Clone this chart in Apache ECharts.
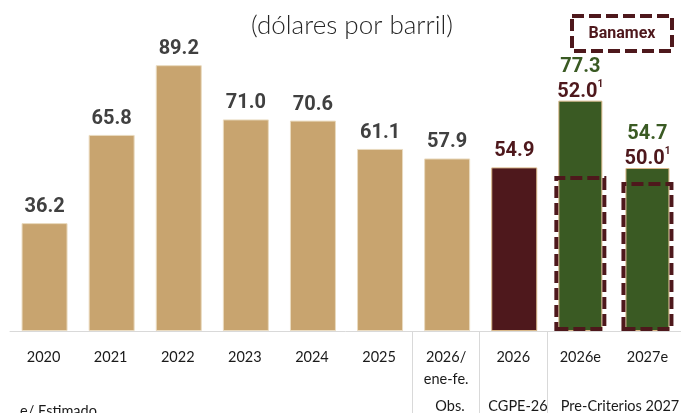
<!DOCTYPE html>
<html><head><meta charset="utf-8">
<script src="https://cdn.jsdelivr.net/npm/echarts@6/dist/echarts.min.js"></script>
<style>html,body{margin:0;padding:0;background:#fff}#c{width:681px;height:413px}</style>
</head><body><div id="c"></div>
<script>
const categories = ['2020','2021','2022','2023','2024','2025','2026/\nene-fe.','2026','2026e','2027e'];
const observed = [36.2, 65.8, 89.2, 71.0, 70.6, 61.1, 57.9, null, null, null];
const cgpe = [null, null, null, null, null, null, null, 54.9, null, null];
const preCriterios = [null, null, null, null, null, null, null, null, 77.3, 54.7];
const banamex = [null, null, null, null, null, null, null, null, 52.0, 50.0];
const groupLabels = ['Obs.', 'CGPE-26', 'Pre-Criterios 2027'];

const TAN = '#C8A46F', MAROON = '#4E181C', GREEN = '#3A5A23', GRAY = '#404040';
const NUM_FONT = "'Roboto',sans-serif";
const TXT_FONT = "'Lato','Noto Sans',sans-serif";

const chart = echarts.init(document.getElementById('c'), null, {renderer:'canvas'});
const fmt = v => v.toFixed(1);

chart.setOption({
  animation: false,
  grid: {left: 10, width: 680, top: 33, bottom: 82},
  xAxis: [{
    type: 'category', data: categories,
    axisLine: {show: true, lineStyle: {color: '#d9d9d9', width: 1}},
    axisTick: {show: true, length: 82, interval: (i) => i === 6 || i === 7 || i === 8, lineStyle: {color: '#d9d9d9'}},
    axisLabel: {color: '#1a1a1a', fontFamily: TXT_FONT, fontSize: 14.5, margin: 15, lineHeight: 22, interval: 0}
  }, {
    type: 'category', data: categories, show: false, position: 'bottom'
  }],
  yAxis: [{type: 'value', min: 0, max: 100, show: false, splitLine: {show: false}}],
  series: [
    {type: 'bar', data: observed, barWidth: 46, barGap: '-100%',
      itemStyle: {color: TAN, borderColor: '#EADBC0', borderWidth: 1},
      label: {show: true, position: 'top', distance: 6, formatter: p => fmt(p.value), color: GRAY,
        fontFamily: NUM_FONT, fontWeight: 'bold', fontSize: 20}},
    {type: 'bar', data: cgpe, barWidth: 46, barGap: '-100%',
      itemStyle: {color: MAROON, borderColor: '#D9B98A', borderWidth: 1},
      label: {show: true, position: 'top', distance: 6, formatter: p => fmt(p.value), color: MAROON,
        fontFamily: NUM_FONT, fontWeight: 'bold', fontSize: 20}},
    {type: 'bar', data: preCriterios, barWidth: 44, barGap: '-100%',
      itemStyle: {color: GREEN, borderColor: '#D9B98A', borderWidth: 1},
      labelLayout: {dy: 4},
      label: {show: true, position: 'top', distance: 0,
        formatter: p => '{g|' + fmt(p.value) + '}\n{m|' + fmt(banamex[p.dataIndex]) + '}{s|1}',
        rich: {
          g: {color: GREEN, fontFamily: NUM_FONT, fontWeight: 'bold', fontSize: 20, lineHeight: 25},
          m: {color: MAROON, fontFamily: NUM_FONT, fontWeight: 'bold', fontSize: 20, lineHeight: 25},
          s: {color: MAROON, fontFamily: NUM_FONT, fontWeight: 'bold', fontSize: 10, lineHeight: 25, verticalAlign: 'top', padding: [0,0,10,0]}
        }}},
    {type: 'bar', data: banamex, xAxisIndex: 1, barWidth: 52, z: 5,
      itemStyle: {color: 'rgba(0,0,0,0)', borderColor: MAROON, borderWidth: 4, borderType: [12, 5]}}
  ],
  graphic: [
    {type: 'text', x: 352, y: 26, style: {text: '(dólares por barril)', font: "300 26px 'Lato'", fill: '#262626', align: 'center', verticalAlign: 'middle'}},
    {type: 'rect', shape: {x: 572, y: 16, width: 100, height: 35}, style: {fill: 'none', stroke: MAROON, lineWidth: 4, lineDash: [12, 5]}},
    {type: 'text', x: 622, y: 34, style: {text: 'Banamex', font: "bold 16px 'Roboto'", fill: MAROON, align: 'center', verticalAlign: 'middle'}},
    {type: 'text', x: 450, y: 406, style: {text: groupLabels[0], font: "14.5px 'Lato'", fill: '#1a1a1a', align: 'center', verticalAlign: 'middle'}},
    {type: 'text', x: 518, y: 406, style: {text: groupLabels[1], font: "14.5px 'Lato'", fill: '#1a1a1a', align: 'center', verticalAlign: 'middle'}},
    {type: 'text', x: 620, y: 406, style: {text: groupLabels[2], font: "14.5px 'Lato'", fill: '#1a1a1a', align: 'center', verticalAlign: 'middle'}},
    {type: 'text', x: 20, y: 411, style: {text: 'e/ Estimado', font: "14.5px 'Lato'", fill: '#1a1a1a', align: 'left', verticalAlign: 'middle'}}
  ]
});
</script></body></html>
